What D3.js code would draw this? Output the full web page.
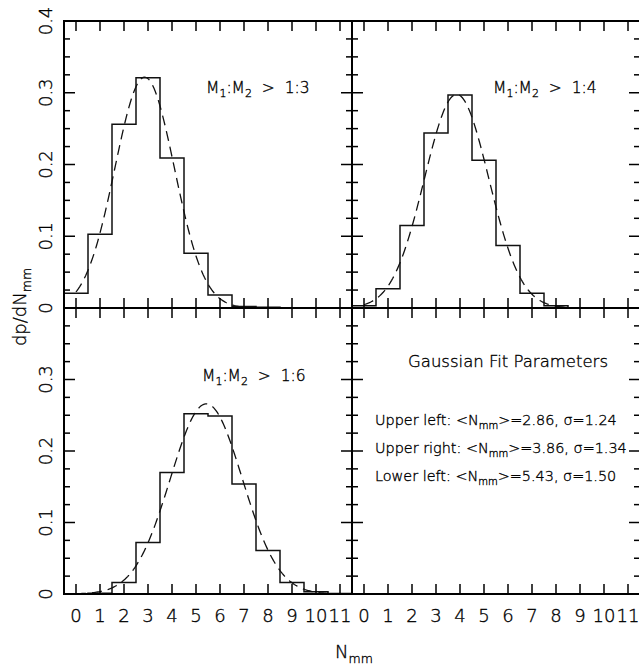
<!DOCTYPE html>
<html>
<head>
<meta charset="utf-8">
<script src="https://cdn.jsdelivr.net/npm/d3@7"></script>
<style>
  html, body { margin: 0; padding: 0; background: #fff; }
  svg { display: block; }
  text { font-family: "DejaVu Sans", sans-serif; fill: #000; white-space: pre; font-weight: 300; stroke: #000; stroke-width: 0.35; }
</style>
</head>
<body>
<svg id="chart" width="639" height="671"></svg>
<script>
// ---------------- data ----------------
const bins = [0, 1, 2, 3, 4, 5, 6, 7, 8, 9, 10, 11];
const xTickLabels = ["0", "1", "2", "3", "4", "5", "6", "7", "8", "9", "10", "11"];
const yTicksTop = [0, 0.1, 0.2, 0.3, 0.4];
const yTicksBottom = [0, 0.1, 0.2, 0.3];
const yTickLabelsTop = ["0", "0.1", "0.2", "0.3", "0.4"];
const yTickLabelsBottom = ["0", "0.1", "0.2", "0.3"];

const histUpperLeft  = [0.0205, 0.1027, 0.256, 0.321, 0.209, 0.0762, 0.018, 0.002, 0.001, 0, 0, 0];
const histUpperRight = [0.003, 0.027, 0.115, 0.244, 0.297, 0.206, 0.087, 0.0205, 0.003, 0.0005, 0, 0];
const histLowerLeft  = [0, 0.001, 0.016, 0.072, 0.170, 0.252, 0.249, 0.154, 0.061, 0.016, 0.003, 0.0008];

// Gaussian fit parameters (as printed on the chart)
const fitMeans  = [2.86, 3.86, 5.43];
const fitSigmas = [1.24, 1.34, 1.50];
const fitLabels = ["Upper left", "Upper right", "Lower left"];
const ratioLabels = ["1:3", "1:4", "1:6"];

// ---------------- layout ----------------
const svg = d3.select("#chart");
const X0 = 64, XM = 352, X1 = 640;
const Y0 = 21, YM = 308, Y1 = 594;

const panels = [
  { x: [X0, XM], y: [YM, Y0], hist: histUpperLeft,  fit: 0, yt: yTicksTop,    ytl: yTickLabelsTop,    bottom: false, label: ratioLabels[0], lx: 206, ly: 93 },
  { x: [XM, X1], y: [YM, Y0], hist: histUpperRight, fit: 1, yt: yTicksTop,    ytl: null,              bottom: false, label: ratioLabels[1], lx: 493, ly: 93 },
  { x: [X0, XM], y: [Y1, YM], hist: histLowerLeft,  fit: 2, yt: yTicksBottom, ytl: yTickLabelsBottom, bottom: true,  label: ratioLabels[2], lx: 202, ly: 381 },
  { x: [XM, X1], y: [Y1, YM], hist: null,           fit: null, yt: yTicksBottom, ytl: null,           bottom: true,  label: null }
];

function normPdf(x, m, s) {
  return Math.exp(-0.5 * ((x - m) / s) ** 2) / (s * Math.sqrt(2 * Math.PI));
}

panels.forEach(p => {
  const x = d3.scaleLinear().domain([-0.5, 11.5]).range(p.x);
  const y = d3.scaleLinear().domain([0, 0.4]).range(p.y);
  const g = svg.append("g");

  // histogram (step outline)
  if (p.hist) {
    const pts = [];
    p.hist.forEach((v, i) => { pts.push([bins[i] - 0.5, v]); pts.push([bins[i] + 0.5, v]); });
    g.append("path")
      .attr("d", d3.line().x(d => x(d[0])).y(d => y(d[1]))(pts))
      .attr("fill", "none").attr("stroke", "#111").attr("stroke-width", 1.5);
  }
  // gaussian fit (dashed)
  if (p.fit !== null) {
    const m = fitMeans[p.fit], s = fitSigmas[p.fit];
    const xs = d3.range(0, 11.001, 0.05);
    g.append("path")
      .attr("d", d3.line().x(d => x(d)).y(d => y(normPdf(d, m, s)))(xs))
      .attr("fill", "none").attr("stroke", "#111").attr("stroke-width", 1.3)
      .attr("stroke-dasharray", "10,6");
  }

  // frame
  g.append("rect")
    .attr("x", p.x[0]).attr("y", p.y[1])
    .attr("width", p.x[1] - p.x[0]).attr("height", p.y[0] - p.y[1])
    .attr("fill", "none").attr("stroke", "#000").attr("stroke-width", 2);

  // x ticks (bottom & top, inward)
  bins.forEach(b => {
    g.append("line").attr("x1", x(b)).attr("x2", x(b)).attr("y1", p.y[0]).attr("y2", p.y[0] - 10)
      .attr("stroke", "#000").attr("stroke-width", 1.5);
    g.append("line").attr("x1", x(b)).attr("x2", x(b)).attr("y1", p.y[1]).attr("y2", p.y[1] + 10)
      .attr("stroke", "#000").attr("stroke-width", 1.5);
  });
  // y ticks (left & right, inward): minor every 0.025, major every 0.1
  d3.range(0, 17).forEach(k => {
    const v = k * 0.025;
    const len = (k % 4 === 0) ? 11 : 6;
    g.append("line").attr("x1", p.x[0]).attr("x2", p.x[0] + len).attr("y1", y(v)).attr("y2", y(v))
      .attr("stroke", "#000").attr("stroke-width", 1.5);
    g.append("line").attr("x1", p.x[1]).attr("x2", p.x[1] - len).attr("y1", y(v)).attr("y2", y(v))
      .attr("stroke", "#000").attr("stroke-width", 1.5);
  });

  // x tick labels
  if (p.bottom) {
    bins.forEach((b, i) => {
      g.append("text").attr("x", x(b)).attr("y", 621.5)
        .attr("text-anchor", "middle").attr("font-size", 18)
        .text(xTickLabels[i]);
    });
  }
  // y tick labels (rotated)
  if (p.ytl) {
    p.yt.forEach((v, i) => {
      g.append("text")
        .attr("transform", `translate(51.5,${y(v)}) rotate(-90)`)
        .attr("text-anchor", "middle").attr("font-size", 18)
        .text(p.ytl[i]);
    });
  }

  // panel label
  if (p.label) {
    const t = g.append("text").attr("x", p.lx).attr("y", p.ly).attr("font-size", 15.5);
    t.append("tspan").text("M");
    t.append("tspan").attr("font-size", 11).attr("dy", 4).text("1");
    t.append("tspan").attr("dy", -4).text(":M");
    t.append("tspan").attr("font-size", 11).attr("dy", 4).text("2");
    t.append("tspan").attr("dy", -4).text("  >  " + p.label);
  }
});

// Gaussian fit parameters text (lower right panel)
svg.append("text").attr("x", 408).attr("y", 367).attr("font-size", 16.5)
  .text("Gaussian Fit Parameters");
const fitY = [425, 453, 481];
fitLabels.forEach((lab, i) => {
  const t = svg.append("text").attr("x", 375).attr("y", fitY[i]).attr("font-size", 14.4);
  t.append("tspan").text(lab + ": <N");
  t.append("tspan").attr("font-size", 10).attr("dy", 4).text("mm");
  t.append("tspan").attr("dy", -4).text(">=" + fitMeans[i].toFixed(2) + ", \u03C3=" + fitSigmas[i].toFixed(2));
});

// axis titles
const yt = svg.append("text").attr("transform", "translate(26,307) rotate(-90)")
  .attr("text-anchor", "middle").attr("font-size", 18);
yt.append("tspan").text("dp/dN");
yt.append("tspan").attr("font-size", 12.5).attr("dy", 5).text("mm");

const xt = svg.append("text").attr("x", 335).attr("y", 658).attr("font-size", 18);
xt.append("tspan").text("N");
xt.append("tspan").attr("font-size", 12.5).attr("dy", 5).text("mm");
</script>
</body>
</html>
